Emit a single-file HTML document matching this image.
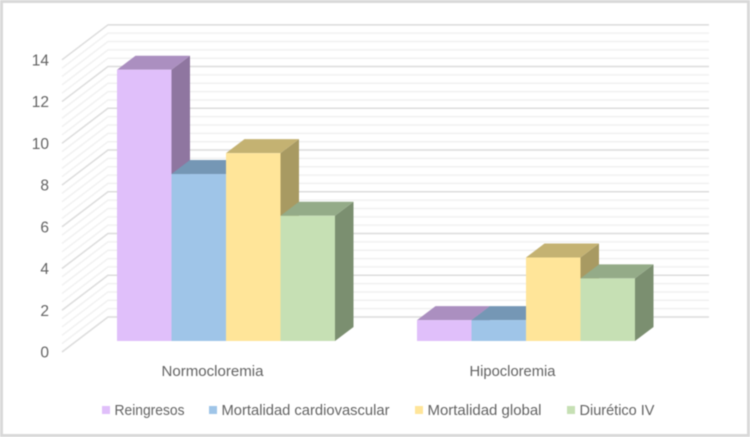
<!DOCTYPE html>
<html lang="es">
<head>
<meta charset="utf-8">
<title>Chart</title>
<style>
html,body{margin:0;padding:0;background:#fff;}
#chart{display:block;filter:blur(0.4px);}
text{font-family:"Liberation Sans",sans-serif;fill:#636363;}
</style>
</head>
<body>
<svg id="chart" width="750" height="437" viewBox="0 0 750 437" xmlns="http://www.w3.org/2000/svg"></svg>
<script>
const categories = ["Normocloremia", "Hipocloremia"];
const seriesNames = ["Reingresos", "Mortalidad cardiovascular", "Mortalidad global", "Diurético IV"];
const reingresos = [13, 1];
const mortalidadCardiovascular = [8, 1];
const mortalidadGlobal = [9, 4];
const diureticoIV = [6, 3];
const tickLabels = [0, 2, 4, 6, 8, 10, 12, 14];

const seriesValues = [reingresos, mortalidadCardiovascular, mortalidadGlobal, diureticoIV];
const palette = [
  {front:"#e0bffa", top:"#ab8fc0", side:"#8f76a0"},
  {front:"#9fc5e8", top:"#7597b5", side:"#6b8aa6"},
  {front:"#ffe599", top:"#c4b272", side:"#a89a62"},
  {front:"#c6e0b4", top:"#94ab88", side:"#7b8f70"}
];
const svg = document.getElementById("chart");
const NS = "http://www.w3.org/2000/svg";
const unit = 20.87;
const axisMax = 14;
const minorStep = 0.4;
const wallBaseY = 317, wallLeftX = 108, wallRightX = 709;
const floorX = 62, floorY = 352;
const barBaseY = 341, barW = 54.5, dx = 18.5, dy = 14;
const groupLeft = [117, 417];

function yWall(v){ return wallBaseY - v * unit; }
function yFloor(v){ return floorY - v * unit; }
function yBar(v){ return barBaseY - v * unit; }
function xBar(g, s){ return groupLeft[g] + s * barW; }

function make(tag, attrs, parent){
  const el = document.createElementNS(NS, tag);
  for (const k in attrs) el.setAttribute(k, attrs[k]);
  (parent || svg).appendChild(el);
  return el;
}

const frame = make("rect", {x:1.5, y:1.5, width:747, height:434, fill:"#fff", stroke:"#d9d9d9", "stroke-width":3});



const grid = make("g", {});


const steps = Math.round(axisMax / minorStep);
for (let i = steps; i >= 0; i--) {
  const v = i * minorStep;
  const major = i % 5 === 0;
  const stroke = major ? "#dcdcdc" : "#f1f1f1";
  const w = major ? 1.5 : 1.5;
  const line = make("polyline", {
    points: floorX + "," + yFloor(v) + " " + wallLeftX + "," + yWall(v) + " " + wallRightX + "," + yWall(v),
    fill:"none", stroke:stroke, "stroke-width":w
  }, grid);
  
  
}

tickLabels.forEach(function(t){
  const el = make("text", {x:49, y:yFloor(t) + 5.5, "text-anchor":"end", "font-size":"15.5px"});
  el.textContent = t;
  
  
});

categories.forEach(function(cat, g){
  seriesValues.forEach(function(vals, s){
    const v = vals[g], x = xBar(g, s), y = yBar(v), c = palette[s], base = barBaseY;
    const bar = make("g", {});
    
    
    make("polygon", {points:[x+barW,y, x+barW+dx,y-dy, x+barW+dx,base-dy, x+barW,base].join(" "), fill:c.side}, bar);
    make("polygon", {points:[x,y, x+dx,y-dy, x+barW+dx,y-dy, x+barW,y].join(" "), fill:c.top}, bar);
    make("rect", {x:x, y:y, width:barW, height:v*unit, fill:c.front}, bar);
  });
  const label = make("text", {x:groupLeft[g] + 2 * barW - 13.5, y:376, "text-anchor":"middle", "font-size":"14.5px", textLength: g === 0 ? 102 : 86, lengthAdjust:"spacingAndGlyphs"});
  label.textContent = cat;
  
  
});

const legendSwatchX = [102, 209, 415, 567];
const legendTextLen = [70, 168, 114, 75];
const legend = make("g", {});


seriesNames.forEach(function(name, s){
  const entry = make("g", {}, legend);
  
  
  make("rect", {x:legendSwatchX[s], y:406, width:8, height:8, fill:palette[s].front}, entry);
  const t = make("text", {x:legendSwatchX[s] + 12.5, y:415, "font-size":"14.5px", textLength:legendTextLen[s], lengthAdjust:"spacingAndGlyphs"}, entry);
  t.textContent = name;
});
</script>
</body>
</html>
